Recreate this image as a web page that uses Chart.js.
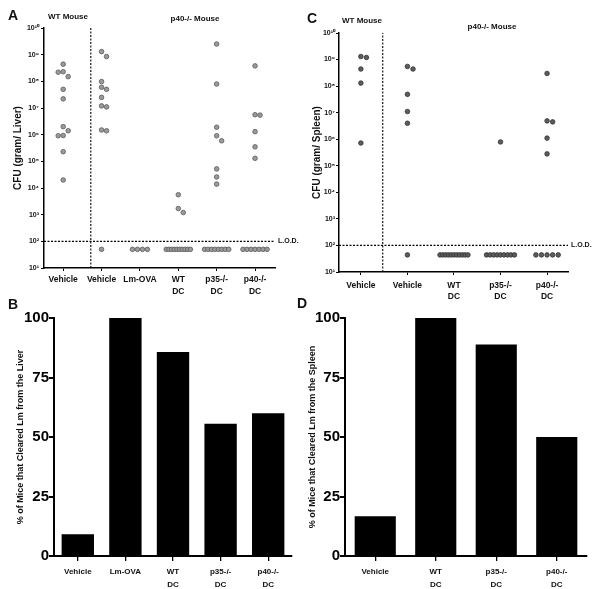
<!DOCTYPE html>
<html>
<head>
<meta charset="utf-8">
<script src="https://cdn.jsdelivr.net/npm/chart.js@4.4.1/dist/chart.umd.min.js"></script>
<style>
    html, body { margin: 0; padding: 0; background: #fff; }
    #fig { position: relative; width: 601px; height: 589px; overflow: hidden; }
    canvas { position: absolute; }
</style>
</head>
<body>
<div id="fig">
    <canvas id="chartA" width="300" height="298" style="left:0;top:0"></canvas>
    <canvas id="chartC" width="301" height="302" style="left:300px;top:0"></canvas>
    <canvas id="chartB" width="300" height="291" style="left:0;top:298px"></canvas>
    <canvas id="chartD" width="305" height="291" style="left:296px;top:298px"></canvas>
</div>
<script>
// --------------------DONNEES------------------------------//

// A : CFU / gram liver
const liverCats = ['Vehicle', 'Vehicle', 'Lm-OVA', ['WT', 'DC'], ['p35-/-', 'DC'], ['p40-/-', 'DC']];
const liverWtVehicle = [4.4e8, 2.3e8, 1.5e8, 2.2e8, 5.0e7, 2.2e7, 2.0e6, 1.4e6, 9.3e5, 9.1e5, 2.3e5, 2.0e4];
const liverVehicle = [1.3e9, 8.5e8, 9.8e7, 6.0e7, 5.0e7, 2.5e7, 1.2e7, 1.1e7, 1.5e6, 1.4e6];
const liverLmOva = [];
const liverWtDc = [5.6e3, 1.7e3, 1.2e3];
const liverP35Dc = [2.5e9, 7.9e7, 1.9e6, 9.1e5, 5.9e5, 5.2e4, 2.6e4, 1.4e4];
const liverP40Dc = [3.8e8, 5.6e6, 5.4e6, 1.3e6, 3.5e5, 1.3e5];
const liverBelowLod = [0, 1, 4, 10, 8, 7];   // souris sous la limite de détection
const liverNdValue = 50;

// C : CFU / gram spleen
const spleenCats = ['Vehicle', 'Vehicle', ['WT', 'DC'], ['p35-/-', 'DC'], ['p40-/-', 'DC']];
const spleenWtVehicle = [1.3e9, 1.2e9, 4.4e8, 1.3e8, 7.2e5];
const spleenVehicle = [5.5e8, 4.4e8, 4.9e7, 1.1e7, 4.0e6];
const spleenWtDc = [];
const spleenP35Dc = [7.9e5];
const spleenP40Dc = [3.0e8, 4.9e6, 4.5e6, 1.1e6, 2.8e5];
const spleenBelowLod = [0, 1, 11, 9, 5];
const spleenNdValue = 44;

const lod = 100;
const cfuTickExp = [1, 2, 3, 4, 5, 6, 7, 8, 9, 10];

// B et D : % de souris ayant éliminé Lm
const liverClearCats = ['Vehicle', 'Lm-OVA', ['WT', 'DC'], ['p35-/-', 'DC'], ['p40-/-', 'DC']];
const liverClearPct = [9.1, 100, 85.7, 55.6, 60];
const spleenClearCats = ['Vehicle', ['WT', 'DC'], ['p35-/-', 'DC'], ['p40-/-', 'DC']];
const spleenClearPct = [16.7, 100, 88.9, 50];
const pctTicks = [0, 25, 50, 75, 100];

// --------------------FONCTIONS------------------------------//

Chart.defaults.font.family = "'Liberation Sans', Arial, sans-serif";
Chart.defaults.color = '#000';

const SANS = "'Liberation Sans', Arial, sans-serif";
const SUP = {'0': '⁰', '1': '¹', '2': '²', '3': '³', '4': '⁴', '5': '⁵', '6': '⁶', '7': '⁷', '8': '⁸', '9': '⁹'};
function sup(n) { return String(n).split('').map(c => SUP[c]).join(''); }

// écarte horizontalement les points trop proches (nuage de points type "swarm")
function swarm(values, center, step) {
    const placed = [];
    return values.map(v => {
        const lv = Math.log10(v);
        let k = 0, off = 0;
        while (placed.some(p => Math.abs(p.lv - lv) < 0.2 && Math.abs(p.off - off) < step * 0.9)) {
            k++;
            off = (k % 2 ? 1 : -1) * Math.ceil(k / 2) * step;
        }
        placed.push({lv: lv, off: off});
        return {x: center + off, y: v};
    });
}

// rangée de points sous la L.O.D.
function belowRow(n, center, value, step, span) {
    const s = n > 1 ? Math.min(step, span / (n - 1)) : 0;
    return Array.from({length: n}, (_, i) => ({x: center + (i - (n - 1) / 2) * s, y: value}));
}

const annotate = {
    id: 'annotate',
    afterDraw(chart, args, opts) {
        const ctx = chart.ctx;
        ctx.save();
        ctx.fillStyle = '#111';
        (opts.texts || []).forEach(t => {
            ctx.font = t.font;
            ctx.textAlign = t.align || 'left';
            ctx.textBaseline = 'alphabetic';
            ctx.fillText(t.text, t.x, t.y);
        });
        if (opts.lod) {
            const y = chart.scales.y.getPixelForValue(opts.lod.value);
            ctx.font = 'bold 7px ' + SANS;
            ctx.textAlign = 'left';
            ctx.textBaseline = 'middle';
            ctx.fillText('L.O.D.', chart.chartArea.right + opts.lod.dx, y);
        }
        ctx.restore();
    }
};

function cfuChart(id, p) {
    const datasets = [];
    p.groups.forEach((vals, i) => {
        const pts = swarm(vals, i, p.step).concat(belowRow(p.below[i], i, p.nd, p.step, p.span));
        datasets.push({
            type: 'scatter', data: pts, order: 0,
            pointRadius: 2.3, pointBorderWidth: 0.8,
            backgroundColor: p.dot, borderColor: p.dotEdge
        });
    });
    // ligne L.O.D. et séparation WT / p40-/-
    datasets.push({
        type: 'line', order: 1, data: [{x: p.xMin, y: lod}, {x: p.xMax, y: lod}],
        borderColor: '#000', borderWidth: 1.3, borderDash: [2, 1.5], pointRadius: 0
    });
    datasets.push({
        type: 'line', order: 1, data: [{x: p.divider, y: 10}, {x: p.divider, y: 1e10}],
        borderColor: '#000', borderWidth: 1.1, borderDash: [2, 1.5], pointRadius: 0
    });

    return new Chart(document.getElementById(id), {
        type: 'scatter',
        data: {datasets: datasets},
        plugins: [annotate],
        options: {
            responsive: false, animation: false,
            layout: {padding: {left: 0, top: p.area.top, right: p.area.right, bottom: 0}},
            plugins: {
                legend: {display: false}, tooltip: {enabled: false},
                annotate: {texts: p.texts, lod: {value: lod, dx: 3}}
            },
            scales: {
                x: {
                    type: 'linear', min: p.xMin, max: p.xMax,
                    afterBuildTicks: s => { s.ticks = p.cats.map((_, i) => ({value: i})); },
                    afterFit: s => { s.height = p.area.xh; },
                    ticks: {
                        callback: v => p.cats[Math.round(v)],
                        font: {size: 8.5, weight: 'bold', lineHeight: p.xLine},
                        color: '#111', padding: p.xPad, maxRotation: 0, autoSkip: false
                    },
                    grid: {display: true, drawOnChartArea: false, drawTicks: true, tickLength: 3, color: '#000'},
                    border: {display: true, color: '#000', width: 1.5}
                },
                y: {
                    type: 'logarithmic', min: 10, max: 1e10,
                    afterBuildTicks: s => { s.ticks = cfuTickExp.map(e => ({value: Math.pow(10, e)})); },
                    afterFit: s => { s.width = p.area.yw; },
                    ticks: {
                        callback: v => '10' + sup(Math.round(Math.log10(v))),
                        font: {size: 7, weight: 'bold'}, color: '#111', padding: p.yPad, autoSkip: false
                    },
                    title: {
                        display: true, text: p.yTitle, color: '#111',
                        font: {size: 10, weight: 'bold'}, padding: {top: p.titlePad, bottom: 0}
                    },
                    grid: {display: true, drawOnChartArea: false, drawTicks: true, tickLength: 3, color: '#000'},
                    border: {display: true, color: '#000', width: 1.5}
                }
            }
        }
    });
}

function barChart(id, p) {
    return new Chart(document.getElementById(id), {
        type: 'bar',
        data: {
            labels: p.cats,
            datasets: [{
                data: p.values, backgroundColor: '#000', borderWidth: 0,
                barPercentage: 0.68, categoryPercentage: 1
            }]
        },
        plugins: [annotate],
        options: {
            responsive: false, animation: false,
            layout: {padding: {left: 0, top: 20, right: p.area.right, bottom: 0}},
            plugins: {legend: {display: false}, tooltip: {enabled: false}, annotate: {texts: p.texts}},
            scales: {
                x: {
                    afterFit: s => { s.height = 33; },
                    ticks: {
                        font: {size: 8, weight: 'bold', lineHeight: 1.65},
                        color: '#111', padding: 4, maxRotation: 0, autoSkip: false
                    },
                    grid: {display: true, offset: false, drawOnChartArea: false, drawTicks: true, tickLength: 5, color: '#000', lineWidth: 1.3},
                    border: {display: true, color: '#000', width: 2}
                },
                y: {
                    min: 0, max: 100,
                    afterBuildTicks: s => { s.ticks = pctTicks.map(v => ({value: v})); },
                    afterFit: s => { s.width = p.area.yw; },
                    ticks: {font: {size: 15, weight: 'bold'}, color: '#000', padding: 0},
                    title: {
                        display: true, text: p.yTitle, color: '#111',
                        font: {size: 9, weight: 'bold'}, padding: {top: p.titlePad, bottom: 0}
                    },
                    grid: {display: true, drawOnChartArea: false, drawTicks: true, tickLength: 5, color: '#000', lineWidth: 2},
                    border: {display: true, color: '#000', width: 2}
                }
            }
        }
    });
}

// --------------------GRAPHIQUES------------------------------//

cfuChart('chartA', {
    cats: liverCats,
    groups: [liverWtVehicle, liverVehicle, liverLmOva, liverWtDc, liverP35Dc, liverP40Dc],
    below: liverBelowLod, nd: liverNdValue,
    step: 0.13, span: 0.63, xMin: -0.5, xMax: 5.52, divider: 0.72,
    area: {top: 28, right: 25, yw: 44, xh: 30},
    xLine: 1.5, xPad: 2, yPad: 2, titlePad: 12,
    dot: '#9a9a9a', dotEdge: '#5a5a5a',
    yTitle: 'CFU (gram/ Liver)',
    texts: [
        {text: 'A', x: 8, y: 20, font: 'bold 14px ' + SANS},
        {text: 'WT Mouse', x: 68, y: 19, font: 'bold 8px ' + SANS, align: 'center'},
        {text: 'p40-/- Mouse', x: 195, y: 21, font: 'bold 8px ' + SANS, align: 'center'}
    ]
});

cfuChart('chartC', {
    cats: spleenCats,
    groups: [spleenWtVehicle, spleenVehicle, spleenWtDc, spleenP35Dc, spleenP40Dc],
    below: spleenBelowLod, nd: spleenNdValue,
    step: 0.12, span: 0.6, xMin: -0.47, xMax: 4.45, divider: 0.47,
    area: {top: 33, right: 33, yw: 39, xh: 30},
    xLine: 1.3, xPad: 5, yPad: 1, titlePad: 11,
    dot: '#5c5c5c', dotEdge: '#333',
    yTitle: 'CFU (gram/ Spleen)',
    texts: [
        {text: 'C', x: 7, y: 23, font: 'bold 14px ' + SANS},
        {text: 'WT Mouse', x: 62, y: 23, font: 'bold 8px ' + SANS, align: 'center'},
        {text: 'p40-/- Mouse', x: 192, y: 29, font: 'bold 8px ' + SANS, align: 'center'}
    ]
});

barChart('chartB', {
    cats: liverClearCats, values: liverClearPct,
    area: {right: 8, yw: 54}, titlePad: 15,
    yTitle: '% of Mice that Cleared Lm from the Liver',
    texts: [{text: 'B', x: 8, y: 11, font: 'bold 14px ' + SANS}]
});

barChart('chartD', {
    cats: spleenClearCats, values: spleenClearPct,
    area: {right: 14, yw: 49}, titlePad: 11,
    yTitle: '% of Mice that Cleared Lm from the Spleen',
    texts: [{text: 'D', x: 1, y: 10, font: 'bold 14px ' + SANS}]
});
</script>
</body>
</html>
